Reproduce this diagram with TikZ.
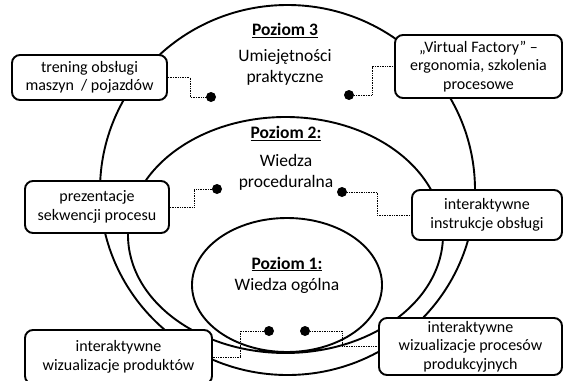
\documentclass[tikz,border=0pt]{standalone}
\usepackage{fontspec}
\setmainfont{Carlito}
\usepackage{tikz}

\begin{document}
\begin{tikzpicture}[x=1pt,y=-1pt,
    box/.style={draw, line width=1.9pt, rounded corners=8pt, fill=white, align=center,
      inner sep=0pt, font=\fontsize{16}{18.5}\selectfont},
    lvl/.style={align=center, font=\fontsize{17.5}{21}\selectfont},
    link/.style={densely dotted, line width=0.7pt}]
    % Define the dots as small filled circles
    \def\blob{circle(5pt)}
    \useasboundingbox (0,0) rectangle (564,380);
	\draw[line width=1.9pt] (287.5,190) ellipse [x radius=187.5pt, y radius=185pt]
	  (285.5,235) ellipse [x radius=157.5pt, y radius=118pt]
	  (287,285) ellipse [x radius=95pt, y radius=67pt];
	\node[lvl] (l3) at (285,54) {\underline{\textbf{Poziom 3}}\\[5pt]Umiejętności\\praktyczne};
	\node[lvl] (l2) at (286,158) {\underline{\textbf{Poziom 2:}}\\[7pt]Wiedza\\proceduralna};
	\node[lvl] (l1) at (287,275) {\underline{\textbf{Poziom 1:}}\\Wiedza ogólna};
	\node[box, minimum width=155pt, minimum height=45pt] (b1) at (89.5,77.5) {trening obsługi\\maszyn~ / pojazdów};
	\node[box, minimum width=167pt, minimum height=63pt] (b2) at (478.5,66.5) {„Virtual Factory” –\\ergonomia, szkolenia\\procesowe};
	\node[box, minimum width=144pt, minimum height=52pt] (b3) at (97,207) {prezentacje\\sekwencji procesu};
	\node[box, minimum width=150pt, minimum height=50pt] (b4) at (487,215) {interaktywne\\instrukcje obsługi};
	\node[box, minimum width=187pt, minimum height=54pt] (b5) at (118.5,357) {interaktywne\\wizualizacje produktów};
	\node[box, minimum width=183pt, minimum height=57pt] (b6) at (470.5,346.5) {interaktywne\\wizualizacje procesów\\produkcyjnych};
	\coordinate (d1) at (211,97); \coordinate (d2) at (349,95);
	\coordinate (d3) at (217,189); \coordinate (d4) at (342,192);
	\coordinate (d5) at (269,331); \coordinate (d6) at (305,331);
	\draw[link] (b1.east) -- ++(22,0) |- (d1) (d2) -- ++(23,0) |- (b2.west)
	  (b3.east) -- ++(24,0) |- (d3) (d4) -- ++(35,0) |- (b4.west)
	  (d5) -- ++(-29,0) |- (b5.east) (d6) -- ++(37,0) |- (b6.west);
	\foreach \i in {1,...,6}{
		\fill (d\i) \blob;
	}
\end{tikzpicture}
\end{document}
